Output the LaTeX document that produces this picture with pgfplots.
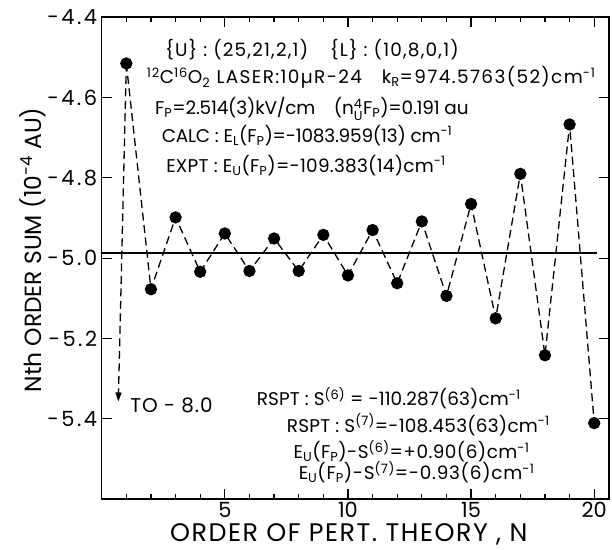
\documentclass[border=0pt]{standalone}
\usepackage{amsmath}
\usepackage{fontspec}
\setmainfont{Poppins}
\usepackage{pgfplots}
\pgfplotsset{compat=1.18}
\usetikzlibrary{arrows.meta}

\newcommand{\annot}{\fontsize{18.5}{21}\selectfont}
\newcommand{\ls}[1]{\addfontfeatures{LetterSpace=#1}}

\begin{document}
\begin{tikzpicture}
\begin{axis}[
    width=507.3bp, height=481.7bp, scale only axis,
    xmin=0, xmax=20.6, ymin=-5.6, ymax=-4.4,
    xtick={5,10,15,20}, xticklabels={5,10,15,20},
    minor xtick={1,...,20},
    ytick={-5.4,-5.2,-5.0,-4.8,-4.6,-4.4},
    yticklabels={-5.4,-5.2,-5.0,-4.8,-4.6,-4.4},
    tick align=inside,
    major tick length=10bp, minor tick length=5bp,
    axis line style={line width=1.6bp},
    every tick/.style={black, line width=1.2bp},
    xticklabel style={font=\fontsize{21}{21}\selectfont},
    yticklabel style={font=\fontsize{21}{21}\selectfont\ls{12}, xshift=-1bp},
    ylabel={Nth ORDER SUM (10\textsuperscript{-4} AU)},
    ylabel style={font=\fontsize{23.5}{23.5}\selectfont, at={(axis description cs:-0.135,0.517)}, anchor=center},
    clip=false,
]
\coordinate (sw) at (rel axis cs:0,0);

% converged value
\addplot[black, line width=1.8bp] coordinates {(0,-4.988) (20.1,-4.988)};

% partial sums
\addplot[black, line width=1.3bp, dash pattern=on 8bp off 4.5bp,
    mark=*, mark size=5.5bp, mark options={solid}] coordinates {
    (1,-4.515) (2,-5.0775) (3,-4.8985) (4,-5.034) (5,-4.9385)
    (6,-5.032) (7,-4.951) (8,-5.032) (9,-4.942) (10,-5.043)
    (11,-4.930) (12,-5.0625) (13,-4.9085) (14,-5.094) (15,-4.865)
    (16,-5.150) (17,-4.790) (18,-5.242) (19,-4.667) (20,-5.411)
};

% first order goes off the scale
\addplot[black, line width=1.3bp, dash pattern=on 8bp off 4.5bp,
    -{Triangle[length=9bp,width=6bp]}] coordinates {(1,-4.515) (0.675,-5.357)};

% x label
\node[anchor=base, font=\fontsize{25.5}{25.5}\selectfont\ls{6}] at (axis description cs:0.487,-0.088)
    {ORDER OF PERT. THEORY , N};

\node[anchor=base west, font=\fontsize{20}{22}\selectfont\ls{5}] at (axis cs:1.02,-5.3835) {TO - 8.0};

\node[anchor=base west, font=\annot\ls{6.5}] at (axis cs:2.44,-4.497)
    {\{U\} : (25,21,2,1)\hspace{22bp}\{L\} : (10,8,0,1)};
\node[anchor=base west, font=\annot\ls{7.5}] at (axis cs:1.69,-4.565)
    {\textsuperscript{12}C\textsuperscript{16}O\textsubscript{2} LASER:10µR-24\hspace{20bp}k\textsubscript{R}=974.5763(52)cm\textsuperscript{-1}};
\node[anchor=base west, font=\annot\ls{-1}] at (axis cs:2.03,-4.6425)
    {F\textsubscript{P}=2.514(3)kV/cm\quad (n$^{\text{4}}_{\text{U}}$F\textsubscript{P})=0.191 au};
\node[anchor=base west, font=\annot\ls{-1}] at (axis cs:2.30,-4.711)
    {CALC : E\textsubscript{L}(F\textsubscript{P})=-1083.959(13) cm\textsuperscript{-1}};
\node[anchor=base west, font=\annot\ls{1.4}] at (axis cs:2.48,-4.786)
    {EXPT : E\textsubscript{U}(F\textsubscript{P})=-109.383(14)cm\textsuperscript{-1}};

\node[anchor=base west, font=\annot\ls{0.5}] at (axis cs:6.16,-5.367)
    {RSPT : S\textsuperscript{(6)} = -110.287(63)cm\textsuperscript{-1}};
\node[anchor=base west, font=\annot\ls{1.2}] at (axis cs:7.38,-5.4335)
    {RSPT : S\textsuperscript{(7)}=-108.453(63)cm\textsuperscript{-1}};
\node[anchor=base west, font=\annot\ls{2.5}] at (axis cs:7.65,-5.4985)
    {E\textsubscript{U}(F\textsubscript{P})-S\textsuperscript{(6)}=+0.90(6)cm\textsuperscript{-1}};
\node[anchor=base west, font=\annot\ls{4}] at (axis cs:7.86,-5.5525)
    {E\textsubscript{U}(F\textsubscript{P})-S\textsuperscript{(7)}=-0.93(6)cm\textsuperscript{-1}};
\end{axis}
\pgfresetboundingbox
\path[use as bounding box] ([shift={(-101.7bp,-51bp)}]sw) rectangle ++(612bp,550bp);
\end{tikzpicture}
\end{document}
